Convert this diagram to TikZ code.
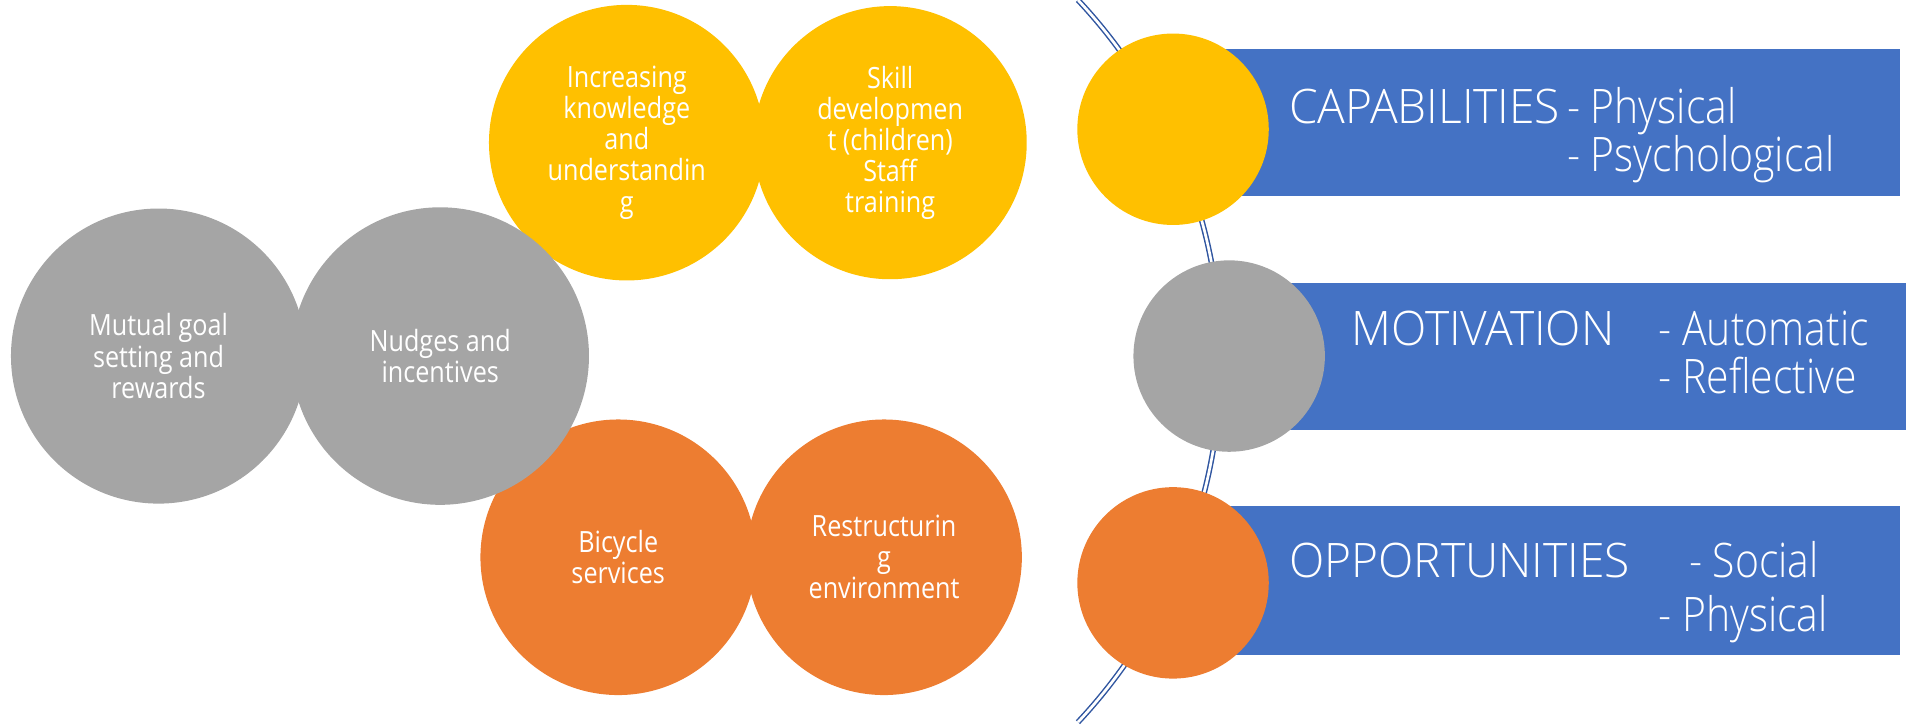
\documentclass[tikz,border=0pt]{standalone}
\usepackage{fontspec}
\setmainfont{Open Sans}[FakeStretch=0.86]
\IfFontExistsTF{Open Sans Light}
  {\newfontfamily\lblfont{Open Sans Light}[FakeStretch=0.86]
   \newfontfamily\capfont{Open Sans Light}[FakeStretch=0.97]}
  {\newfontfamily\lblfont{Open Sans}[FakeStretch=0.85]
   \newfontfamily\capfont{Open Sans}[FakeStretch=0.95]}
\definecolor{cyel}{HTML}{FFC000}
\definecolor{cora}{HTML}{ED7D31}
\definecolor{cgry}{HTML}{A5A5A5}
\definecolor{cblu}{HTML}{4472C4}
\definecolor{carc}{HTML}{2F55A0}
\begin{document}
\begin{tikzpicture}[x=1pt,y=-1pt,
  ball/.style={circle,inner sep=0pt,minimum size=#1,text=white,align=center,
    font=\fontsize{24}{25.5}\selectfont},
  band/.style={fill=cblu},
  lbl/.style={anchor=base west,inner sep=0pt,text=white,font=\lblfont\fontsize{39}{40}\selectfont},
  headlbl/.style={lbl,font=\capfont\fontsize{39}{40}\selectfont},
  bigdot/.style={circle,inner sep=0pt,minimum size=157pt}]
\useasboundingbox (0,0) rectangle (1568,594);
% left cluster
\node[ball=226pt,fill=cyel] (k) at (514,117) {Increasing\\knowledge\\and\\understandin\\g};
\node[ball=224pt,fill=cyel] (s) at (730,117) {Skill\\developmen\\t (children)\\Staff\\training};
\node[ball=226pt,fill=cora] (b) at (507,457) {Bicycle\\services};
\node[ball=226pt,fill=cora] (r) at (725,457) {Restructurin\\g\\environment};
\node[ball=242pt,fill=cgry] (m) at (130,292) {Mutual goal\\setting and\\rewards};
\node[ball=244pt,fill=cgry] (n) at (361,292) {Nudges and\\incentives};
% right side
\draw[carc,line width=1.2pt,double=white,double distance=2.2pt] (884,0) arc[start angle=43.15,end angle=-43.15,radius=433pt];
\fill[band] (1003,40) rectangle (1558,161);
\fill[band] (1050,232) rectangle (1563,353);
\fill[band] (1003,415) rectangle (1558,537);
\node[bigdot,fill=cyel] (cy) at (962,106) {};
\node[bigdot,fill=cgry] (cg) at (1008,292) {};
\node[bigdot,fill=cora] (co) at (962,478) {};
\node[headlbl] (c1) at (1057,101) {CAPABILITIES};
\node[lbl] (c2) at (1285,101) {- Physical};
\node[lbl] (c3) at (1285,141) {- Psychological};
\node[headlbl] (m1) at (1108,283) {MOTIVATION};
\node[lbl] (m2) at (1360,283) {- Automatic};
\node[lbl] (m3) at (1360,323) {- Reflective};
\node[headlbl] (o1) at (1057,474) {OPPORTUNITIES};
\node[lbl] (o2) at (1385,474) {- Social};
\node[lbl] (o3) at (1360,518) {- Physical};
\end{tikzpicture}
\end{document}
